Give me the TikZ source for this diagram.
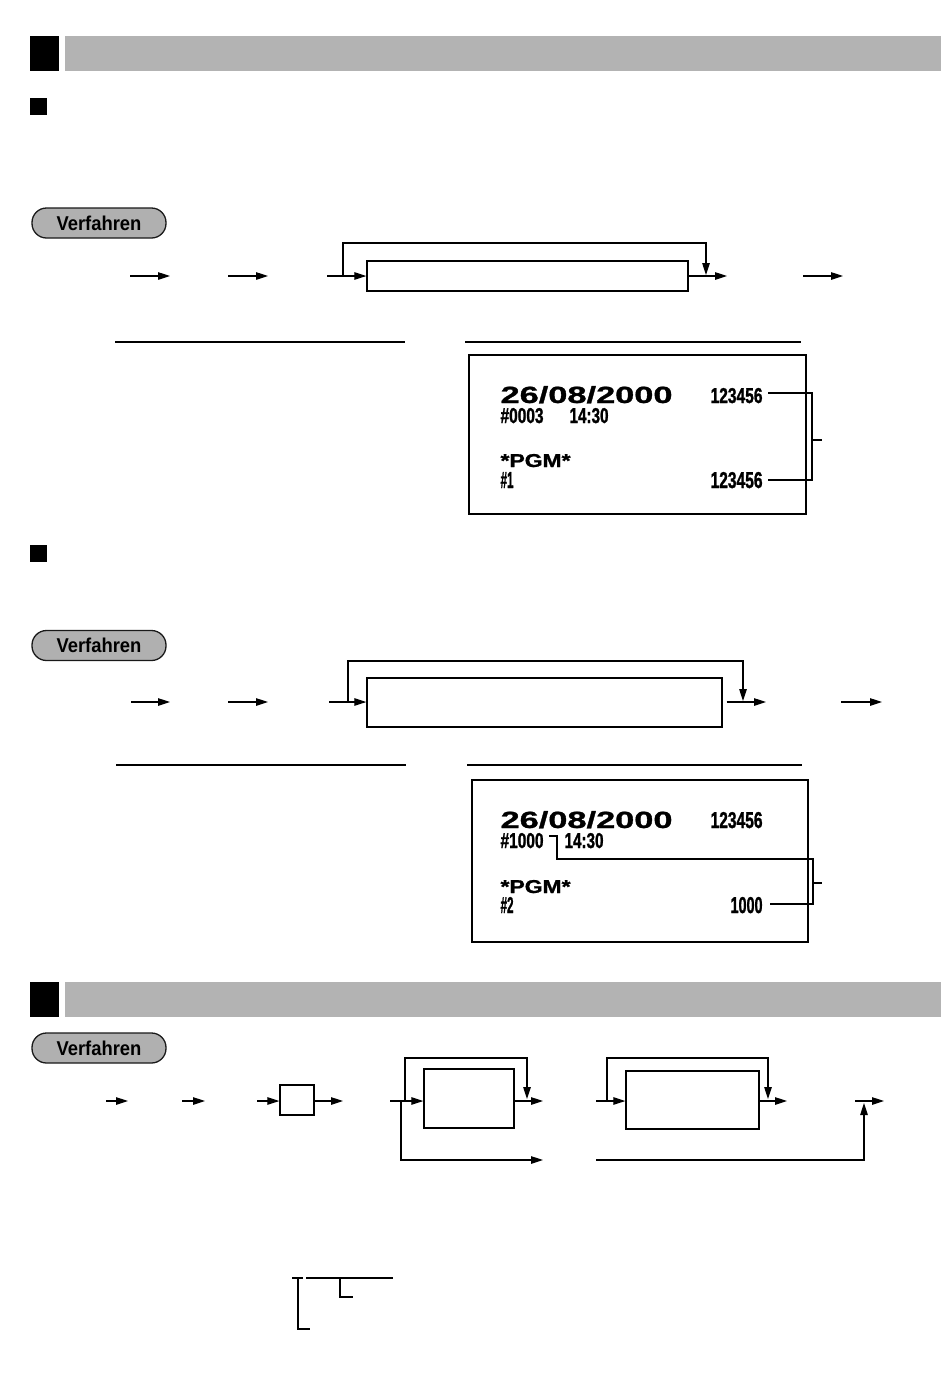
\documentclass[tikz,border=0pt]{standalone}
\usepackage{fontspec}
\setmainfont{Liberation Sans}
\newfontfamily\rcptfont[FakeBold=1.5]{Liberation Sans Bold}
\newfontfamily\datefont[FakeBold=1]{Liberation Sans Bold}
\usepackage{graphicx}
\usetikzlibrary{arrows.meta,calc}
\definecolor{hdrgray}{HTML}{B3B3B3}
\definecolor{pillgray}{HTML}{B0B0B0}
\newcommand{\rtxt}[3]{\resizebox{#1pt}{#2pt}{\rcptfont #3}}
\newcommand{\dtxt}[3]{\resizebox{#1pt}{#2pt}{\datefont #3}}
\begin{document}
\begin{tikzpicture}[x=1pt,y=-1pt,
  line width=1.1pt,
  arr/.style={-{Triangle[length=12pt,width=7.5pt]}},
  pill/.style={draw=black!90, fill=pillgray, line width=1.3pt, rounded corners=14.5pt,
    minimum width=134pt, minimum height=30pt, inner sep=0pt,
    font=\fontsize{20}{20}\selectfont\bfseries},
  fbox/.style={draw, line width=1.3pt, inner sep=0pt},
  rcpt/.style={draw, line width=1.2pt, inner sep=0pt},
  rt/.style={inner sep=0pt, anchor=base west},
  rulel/.style={line width=1.2pt},
  brk/.style={line width=1.1pt}]
\fill[white] (0,0) rectangle (950,1385);
\useasboundingbox (0,0) rectangle (950,1385);

% ---------- headers ----------
\fill[black] (30,36) rectangle (59,71);
\fill[hdrgray] (65,36) rectangle (941,71);
\fill[black] (30,98) rectangle (47,115);
\fill[black] (30,545) rectangle (47,562);
\fill[black] (30,982) rectangle (59,1017);
\fill[hdrgray] (65,982) rectangle (941,1017);

% ---------- pills ----------
\node[pill] (v1) at (99,223) {\scalebox{0.92}[1]{Verfahren}};
\node[pill] (v2) at (99,645.5) {\scalebox{0.92}[1]{Verfahren}};
\node[pill] (v3) at (99,1048) {\scalebox{0.92}[1]{Verfahren}};

% ---------- flow 1 ----------
\node[fbox, minimum width=321pt, minimum height=30pt] (b1) at (527.5,276) {};
\coordinate (p1) at (130,276); \coordinate (q1) at (170,276);
\coordinate (p2) at (228,276); \coordinate (q2) at (268,276);
\coordinate (p3) at (327,276);
\coordinate (lp1) at (343,276); \coordinate (lt1) at (706,243); \coordinate (le1) at (706,275);
\coordinate (q4) at (727,276);
\coordinate (p5) at (803,276); \coordinate (q5) at (843,276);
\draw[arr] (p1)--(q1);
\draw[arr] (p2)--(q2);
\draw[arr] (p3)--(b1.west);
\draw[arr] (lp1) |- (lt1) -- (le1);
\draw[arr] (b1.east)--(q4);
\draw[arr] (p5)--(q5);

\draw[rulel] (115,342) -- (405,342);
\draw[rulel] (465,342) -- (801,342);

% ---------- receipt 1 ----------
\node[rcpt, minimum width=337pt, minimum height=159pt] (rc1) at (637.5,434.5) {};
\node[rt] (d1) at (500,403) {\dtxt{172}{17}{26/08/2000}};
\node[rt] (n1a) at (710,403) {\rtxt{52}{15}{123456}};
\node[rt] (c1) at (500,423) {\rtxt{43}{15}{\#0003}};
\node[rt] (t1) at (569,423) {\rtxt{39}{15}{14:30}};
\node[rt] (g1) at (500,467) {\dtxt{70}{13}{*PGM*}};
\node[rt] (h1) at (500,488) {\rtxt{13}{16}{\#1}};
\node[rt] (n1b) at (710,488) {\rtxt{52}{16}{123456}};
\coordinate (k1a) at (768,393); \coordinate (k1b) at (812,393);
\coordinate (k1c) at (812,480); \coordinate (k1d) at (768,480);
\coordinate (k1e) at (812,440); \coordinate (k1f) at (822,440);
\draw[brk] (k1a) -- (k1b) -- (k1c) -- (k1d);
\draw[brk] (k1e) -- (k1f);

% ---------- flow 2 ----------
\node[fbox, minimum width=355pt, minimum height=49pt] (b2) at (544.5,702.5) {};
\coordinate (s1) at (131,702); \coordinate (u1) at (170,702);
\coordinate (s2) at (228,702); \coordinate (u2) at (268,702);
\coordinate (s3) at (329,702);
\coordinate (lp2) at (348,702); \coordinate (lt2) at (743,661); \coordinate (le2) at (743,701);
\coordinate (u4) at (766,702);
\coordinate (s5) at (841,702); \coordinate (u5) at (882,702);
\draw[arr] (s1)--(u1);
\draw[arr] (s2)--(u2);
\draw[arr] (s3)--(s3 -| b2.west);
\draw[arr] (lp2) |- (lt2) -- (le2);
\draw[arr, shorten <=4pt] (b2.east |- s3)--(u4);
\draw[arr] (s5)--(u5);

\draw[rulel] (116,765) -- (406,765);
\draw[rulel] (467,765) -- (802,765);

% ---------- receipt 2 ----------
\node[rcpt, minimum width=336pt, minimum height=162pt] (rc2) at (640,861) {};
\node[rt] (d2) at (500,828) {\dtxt{172}{17}{26/08/2000}};
\node[rt] (n2a) at (710,828) {\rtxt{52}{16}{123456}};
\node[rt] (c2) at (500,848) {\rtxt{43}{15}{\#1000}};
\node[rt] (t2) at (564,848) {\rtxt{39}{15}{14:30}};
\node[rt] (g2) at (500,893) {\dtxt{70}{13}{*PGM*}};
\node[rt] (h2) at (500,913) {\rtxt{13}{16}{\#2}};
\node[rt] (n2b) at (730,913) {\rtxt{32}{16}{1000}};
\coordinate (k2a) at (549,836); \coordinate (k2b) at (557,836);
\coordinate (k2c) at (557,859); \coordinate (k2d) at (813,859);
\coordinate (k2e) at (813,904); \coordinate (k2f) at (770,904);
\coordinate (k2g) at (813,883); \coordinate (k2h) at (822,883);
\draw[brk] (k2a) -- (k2b) -- (k2c) -- (k2d) -- (k2e) -- (k2f);
\draw[brk] (k2g) -- (k2h);

% ---------- flow 3 ----------
\node[fbox, minimum width=34pt, minimum height=30pt] (sb) at (297,1100) {};
\node[fbox, minimum width=90pt, minimum height=59pt] (b3) at (469,1098.5) {};
\node[fbox, minimum width=133pt, minimum height=58pt] (b4) at (692.5,1100) {};
\coordinate (r1) at (106,1101); \coordinate (w1) at (128,1101);
\coordinate (r2) at (182,1101); \coordinate (w2) at (205,1101);
\coordinate (r3) at (257,1101);
\coordinate (w4) at (343,1101);
\coordinate (r5) at (390,1101);
\coordinate (lp3) at (405,1101); \coordinate (lt3) at (527,1058); \coordinate (le3) at (527,1099);
\coordinate (w6) at (543,1101);
\coordinate (bp1) at (401,1101); \coordinate (bp2) at (543,1160);
\coordinate (r7) at (596,1101);
\coordinate (lp4) at (607,1101); \coordinate (lt4) at (768,1058); \coordinate (le4) at (768,1099);
\coordinate (w8) at (787,1101);
\coordinate (bq1) at (596,1160); \coordinate (bq2) at (864,1103);
\coordinate (r9) at (855,1101); \coordinate (w9) at (884,1101);
\draw[arr] (r1)--(w1);
\draw[arr] (r2)--(w2);
\draw[arr] (r3)--(r3 -| sb.west);
\draw[arr] (sb.east |- r3)--(w4);
\draw[arr] (r5)--(r5 -| b3.west);
\draw[arr] (lp3) |- (lt3) -- (le3);
\draw[arr] (b3.east |- r5)--(w6);
\draw[arr] (bp1) |- (bp2);
\draw[arr] (r7)--(r7 -| b4.west);
\draw[arr] (lp4) |- (lt4) -- (le4);
\draw[arr] (b4.east |- r7)--(w8);
\draw[arr] (bq1) -| (bq2);
\draw[arr] (r9)--(w9);

% ---------- bottom tree ----------
\draw[brk] (292,1278) -- (303,1278);
\draw[brk] (306,1278) -- (393,1278);
\draw[brk] (298,1278) -- (298,1329) -- (310,1329);
\draw[brk] (340,1278) -- (340,1297) -- (353,1297);
\end{tikzpicture}
\end{document}
